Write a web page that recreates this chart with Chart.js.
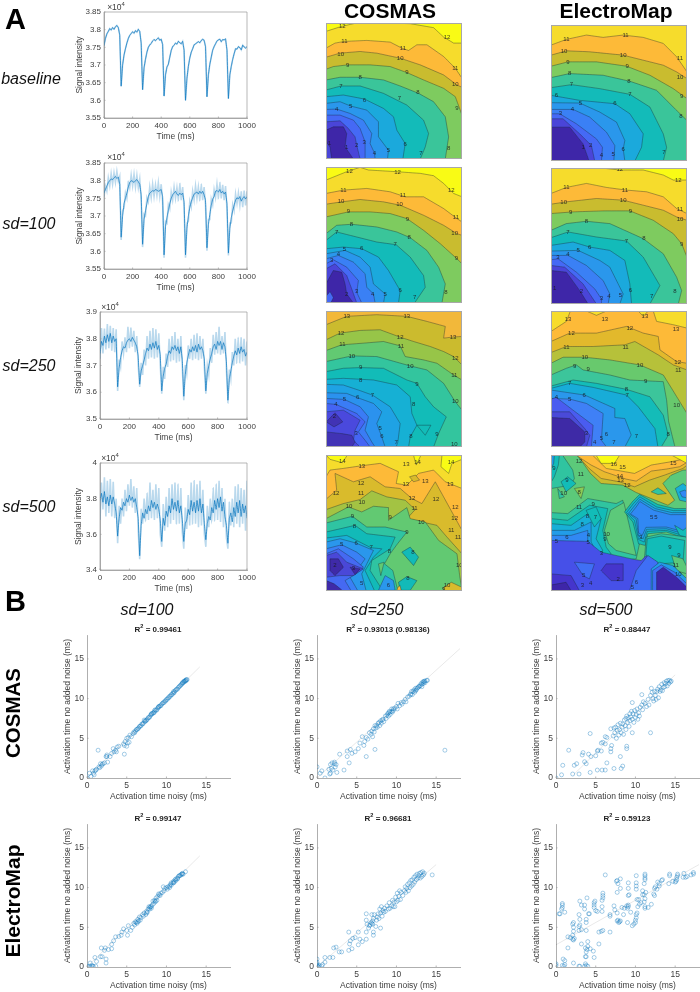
<!DOCTYPE html>
<html>
<head>
<meta charset="utf-8">
<script src="https://cdn.jsdelivr.net/npm/chart.js@4"></script>
<style>
  body { margin: 0; background: #fff; font-family: "Liberation Sans", Arial, sans-serif; }
  #page { position: relative; width: 700px; height: 992px; overflow: hidden; filter: blur(0.3px); }
  #page canvas { position: absolute; }
  .txt { position: absolute; transform: translate(-50%, -50%); white-space: nowrap; color: #000; }
  sup { font-size: 70%; line-height: 0; }
</style>
</head>
<body>
<div id="page"></div>
<script>
// time axis of the optical traces (ms)
const timeMs = [0,10,20,30,40,50,60,70,80,90,100,110,120,130,140,150,160,170,180,190,200,210,220,230,240,250,260,270,280,290,300,310,320,330,340,350,360,370,380,390,400,410,420,430,440,450,460,470,480,490,500,510,520,530,540,550,560,570,580,590,600,610,620,630,640,650,660,670,680,690,700,710,720,730,740,750,760,770,780,790,800,810,820,830,840,850,860,870,880,890,900,910,920,930,940,950,960,970,980,990,1000];

// signal intensity, in tens of counts (3805 reads as 3.805 x 10^4)
const baselineTrace = [3755,3775,3788,3795,3803,3799,3806,3801,3808,3812,3806,3785,3640,3700,3728,3746,3762,3775,3784,3789,3794,3790,3797,3793,3801,3795,3762,3630,3692,3716,3736,3750,3757,3761,3768,3772,3769,3773,3777,3770,3773,3758,3612,3672,3694,3702,3722,3741,3752,3756,3762,3759,3767,3763,3760,3767,3742,3600,3662,3696,3720,3736,3746,3757,3760,3763,3766,3763,3769,3773,3770,3752,3610,3672,3702,3722,3742,3752,3760,3768,3771,3773,3766,3772,3771,3774,3742,3605,3672,3696,3716,3732,3746,3745,3752,3749,3743,3756,3751,3748,3752];
const sd100Trace = [3765,3775,3785,3795,3800,3805,3803,3808,3812,3806,3810,3790,3640,3700,3735,3750,3765,3782,3795,3800,3798,3795,3800,3803,3797,3790,3760,3620,3690,3715,3735,3755,3765,3768,3772,3770,3775,3773,3770,3772,3775,3755,3590,3670,3695,3715,3735,3750,3760,3765,3770,3762,3758,3765,3760,3765,3740,3590,3665,3700,3725,3740,3752,3762,3765,3768,3762,3770,3764,3770,3760,3745,3610,3675,3705,3730,3748,3755,3770,3772,3768,3775,3765,3770,3762,3768,3735,3595,3665,3695,3715,3730,3745,3752,3748,3755,3742,3750,3755,3748,3755];
const sd100Noise = [3755,3785,3770,3808,3785,3820,3790,3822,3795,3826,3798,3812,3632,3715,3722,3765,3750,3798,3780,3816,3785,3818,3782,3815,3780,3805,3745,3612,3705,3700,3752,3740,3782,3752,3790,3755,3788,3758,3794,3755,3790,3740,3582,3685,3680,3732,3720,3768,3745,3782,3750,3780,3745,3792,3745,3782,3725,3582,3680,3685,3742,3725,3770,3745,3785,3750,3782,3745,3790,3745,3782,3730,3602,3690,3690,3748,3732,3775,3752,3790,3750,3795,3750,3788,3745,3785,3720,3588,3680,3680,3732,3715,3762,3735,3765,3730,3770,3725,3772,3730,3770];
const sd250Trace = [3745,3790,3775,3810,3785,3815,3790,3820,3785,3810,3790,3800,3620,3690,3730,3755,3770,3765,3785,3795,3800,3790,3805,3795,3785,3770,3735,3630,3680,3700,3720,3745,3765,3755,3780,3760,3785,3765,3790,3760,3775,3740,3605,3660,3690,3705,3735,3755,3745,3770,3760,3775,3755,3770,3745,3770,3720,3585,3665,3710,3735,3760,3750,3770,3755,3775,3750,3780,3760,3770,3755,3725,3605,3670,3700,3725,3745,3770,3780,3760,3790,3775,3790,3760,3785,3770,3715,3570,3650,3680,3710,3735,3755,3740,3765,3745,3770,3750,3760,3735,3750];
const sd250Noise = [3725,3840,3745,3838,3760,3855,3765,3848,3755,3840,3750,3835,3605,3720,3695,3790,3745,3805,3750,3845,3765,3842,3770,3830,3750,3810,3700,3620,3710,3665,3760,3700,3810,3725,3830,3730,3840,3725,3835,3730,3820,3700,3595,3695,3650,3745,3695,3800,3715,3810,3720,3825,3710,3800,3715,3810,3690,3570,3700,3670,3775,3725,3800,3720,3815,3725,3820,3720,3810,3725,3800,3690,3595,3700,3665,3765,3710,3815,3740,3825,3745,3845,3740,3810,3745,3825,3685,3560,3685,3650,3750,3700,3800,3710,3805,3710,3805,3715,3800,3700,3790];
const sd500Trace = [3790,3830,3780,3840,3770,3810,3760,3820,3770,3810,3770,3720,3590,3690,3750,3735,3780,3760,3800,3780,3820,3790,3810,3780,3800,3750,3690,3480,3650,3720,3690,3740,3715,3760,3730,3790,3750,3780,3740,3770,3740,3680,3560,3690,3650,3730,3700,3760,3720,3800,3740,3780,3730,3790,3720,3760,3680,3560,3660,3680,3740,3710,3790,3730,3780,3720,3790,3730,3800,3720,3770,3660,3570,3660,3700,3680,3750,3720,3790,3740,3800,3750,3810,3730,3780,3700,3650,3550,3690,3720,3670,3750,3700,3780,3720,3790,3700,3770,3720,3760,3690];
const sd500Noise = [3680,3890,3740,3920,3700,3900,3720,3910,3700,3895,3690,3800,3550,3760,3660,3800,3700,3850,3730,3880,3760,3910,3750,3870,3720,3860,3620,3460,3740,3660,3800,3680,3830,3680,3890,3690,3850,3680,3880,3690,3860,3600,3530,3770,3620,3810,3640,3860,3660,3880,3680,3890,3660,3880,3660,3860,3610,3520,3750,3630,3820,3650,3890,3660,3900,3660,3880,3640,3900,3650,3850,3600,3530,3760,3640,3800,3680,3860,3680,3880,3680,3900,3670,3860,3640,3800,3580,3520,3780,3650,3800,3640,3870,3660,3880,3640,3860,3660,3850,3620,3900];

// activation time scatter: noisy, no-noise pairs (ms)
const cosmas100 = [0,0,.3,.6,.5,.2,.7,.9,.8,.6,.9,.4,1,.9,1.2,1.1,1.1,1,1.4,3.5,1.5,1.4,1.6,1.3,1.7,1.8,1.8,1.5,1.9,1.7,2,1.8,2.2,1.9,2.4,2.7,2.5,2.9,2.5,2.7,2.6,2,2.9,2.7,3.1,3.1,3.3,3.7,3.4,3.3,3.6,3.5,3.7,3.3,3.8,3.9,4,4,4.6,4.3,4.7,3,4.7,4.1,4.8,4.6,5,4,5,5,5.1,4.4,5.2,5.1,5.3,4.5,5.4,5.4,5.6,5.2,5.8,5.6,5.9,5.8,6,5.7,6.2,6.1,6.3,6.1,6.5,6.3,6.6,6.5,6.8,6.6,6.9,6.8,7.1,6.9,7.2,7.3,7.3,7.1,7.5,7.3,7.6,7.4,7.7,7.6,7.9,7.7,8,7.9,8.1,8,8.2,8.1,8.4,8.2,8.5,8.3,8.6,8.6,8.8,8.6,8.9,8.8,9,8.9,9.2,9.1,9.3,9.1,9.5,9.4,9.6,9.5,9.8,9.7,9.9,9.7,10.1,9.9,10.3,10.1,10.5,10.3,10.6,10.5,10.8,10.7,10.9,10.9,11,10.8,11.2,11.1,11.3,11.2,11.5,11.4,11.6,11.5,11.8,11.7,11.9,11.8,12,11.9,12.1,12,12.2,12.1,12.3,12.2,12.4,12.2,12.5,12.4,12.6,12.4,6.1,5.9,6.4,6.2,6.7,6.5,7,6.8,7.3,7.2,7.4,7.2,7.8,7.6,8.1,8.1,8.3,8.2,8.5,8.5,8.7,8.5,9,9,9.1,9,9.4,9.3,9.7,9.5,10,9.9,10.2,10.1,10.4,10.3,10.7,10.5,10.9,10.7,11.1,11,11.4,11.2,11.7,11.6,12,12,12.2,12.2,12.4,12.3,12.5,12.3];
const cosmas250 = [0,1.4,.4,.6,.6,.9,1,0,1.5,1.1,1.6,.5,1.7,.6,1.7,1.7,1.8,1.2,1.9,1.9,2,1,2.2,1.8,2.2,2,2.3,1.4,2.4,1.7,2.5,.7,2.85,3,3.4,1,3.8,3.4,4.05,1.9,3.8,2.7,4.2,3.6,4.4,3.1,4.8,3.3,5.2,3.7,5.4,4.4,5.9,4.1,5.7,5.2,6.2,2.7,7.3,3.6,16.1,3.5,6,4.6,6.2,5.1,6.4,4.9,6.6,5.7,6.8,5.5,6.9,5.9,7,5.2,7.1,6.2,7.2,5.8,7.3,6.6,7.4,6.3,7.6,6.4,7.7,6.9,7.9,6.6,8,7.2,8.1,6.9,8.3,7.4,8.4,7.1,8.6,7.8,8.7,7.5,8.9,8.1,9,7.8,9.1,8.4,9.2,8,9.4,8.7,9.5,8.3,9.6,8.5,9.8,8.8,10,9,10.1,8.7,10.2,9.4,10.4,9.1,10.6,9.5,10.7,9.3,10.9,9.6,11.1,9.9,11.2,9.6,11.4,10.2,11.6,10.3,11.8,10.6,11.9,10.9,12,10.5,12.2,11.1,12.3,10.8,12.4,11.3,12.5,11.1,12.7,11.4,12.8,11.5,13,11.6,13.1,11.9,13.2,11.5,13.3,12.1,13.4,11.9,13.5,12.2,13.6,12,13.8,12.3,13.9,12.3,8.8,7.9,9,8.2,9.2,8.3,9.4,8.4,9.6,8.7,11.8,10.5,12.1,10.9,12.4,11,12.6,11.3,12.9,11.6,13.2,11.8,13.4,12.1,13.6,12.2,7.5,6.6,7.8,7,8.2,7.3];
const cosmas500 = [0,0,.7,.4,.85,1.6,1.6,3.5,2.1,.5,2.3,1.6,2.6,1.8,2.9,.5,3.3,2.9,3.4,3.2,3.6,2.05,3.8,1.8,4.1,3,4.3,.7,4.3,5.6,4.4,2.7,5,2.8,5.2,1,5.2,3.4,5.3,3.5,5.7,3.4,5.8,1,6.2,1,6.4,1.9,5.7,4.4,5.9,4.5,6.2,4.3,6.2,5.2,6.4,5.1,7,4.1,6.9,3.7,6.9,3.3,7.3,1.2,8.1,2.7,8.2,1.2,8.4,1.5,8.9,4,8.9,3.7,9.6,5.7,11.9,5.7,6.9,6.2,7.2,5.3,7.3,6.3,7.4,5.7,7.5,6.4,7.6,5,7.7,6,7.8,6.7,7.9,5.4,8,6.1,8.1,6.9,8.2,5.7,8.3,6.4,8.4,6.8,8.5,5.5,8.6,7.3,8.7,6.6,8.8,7.5,8.8,6.1,8.9,7.8,9,7,9.1,7.6,9.2,6.5,9.3,8.1,9.3,7.2,9.4,7.7,9.5,8.4,9.6,9.5,9.6,7.4,9.7,8.1,9.8,7,9.9,8.5,10,7.6,10.1,8,10.2,8.7,10.3,7.4,10.4,8.2,10.5,7.8,10.6,8.9,10.8,9.2,10.8,10.5,10.9,8.6,11,9.6,11.2,9.4,11.4,9,11.6,9.9,11.7,9.2,11.9,10.4,12,11.3,12.1,10.8,12.2,10,12.3,9.7,12.4,10.9,12.5,10.4,12.6,9.9,12.7,10.9,12.8,11.2,12.9,10.1,13,11.5,13.1,10.9,13.2,11.1,13.3,11.8,13.4,11,13.5,11.4,13.6,12,13.7,11.5,13.8,11.9,13.9,12.2,14,11.6,14.1,12.3,14.2,11.9,14.3,12.3,14.4,12.1,14.5,12.2];
const electro100 = [0,.1,.3,.1,.4,.5,.5,0,.6,.2,.7,.1,.8,.1,1,1.2,1.1,.1,1.2,.7,1.7,1.3,1.8,2.4,1.9,1.3,2.4,1,2.4,.5,2.2,2.1,2.3,2.4,2.7,2.2,3.1,2.3,3.1,2.85,3.35,3.3,3.6,3.8,4,3.85,4.3,4,4.4,4.4,4.6,4.8,5.1,4,5,4.6,5.2,5.2,5.5,4.6,5.7,5,5.9,5.5,6,5.3,6.1,5.7,6.3,5.5,6.4,6,6.5,5.8,6.6,6.3,6.7,5.9,6.8,6.2,7,6.6,7.1,6.4,7.2,6.8,7.4,6.6,7.5,7,7.6,6.9,7.7,7.3,7.8,7.6,7.9,7.3,8,7.6,8.1,7.4,8.2,7.8,8.3,8.3,8.4,8,8.5,8.4,8.6,8.2,8.7,8.7,8.8,8.4,8.9,8.9,9,9.2,9.2,9,9.3,9.3,9.5,9.4,9.6,10.1,9.7,9.6,9.8,9.9,10,10,10.1,9.8,10.2,10.1,10.4,10.2,10.5,10.4,10.6,10.6,10.8,10.6,10.9,10.8,11,10.7,11.1,11,11.2,11.1,11.4,11.2,11.5,11.4,11.6,11.5,11.8,11.6,11.9,11.7,12,11.8,12.1,11.7,12.4,12,7.5,6.8,7.9,7.5,8.1,7.6,8.6,8.3,9.1,9.1,10.4,10,10.6,10.3,10.9,10.6,11.2,10.9,11.4,11.1,11.7,11.5,12,11.7,6.2,5.6,6.4,5.7];
const electro250 = [0,.2,0,.4,0,.6,0,1,.1,.1,.2,0,.3,.2,.6,.1,.7,.3,1,.6,1,1.2,1.6,1.2,2,1.2,2.1,2.4,2.4,2.5,2.8,1.9,3.1,1.9,4,2.1,4,4.4,4.1,2.9,4.2,3.3,4.4,2.3,4.5,3.6,4.8,3.7,5.2,4.4,5.4,3.5,5.7,3.2,6.2,3.5,5.2,2.8,6.2,4.4,6.7,5.3,7.1,4,7.1,4.4,6.9,5.5,6.2,6.7,6.2,5.9,6.3,5.4,6.5,4.9,6.6,5.2,6.8,5.6,6.9,6.6,7,5.8,7,5.4,7.1,6.1,7.2,6.6,7.4,5.1,7.5,5.9,7.6,6.3,7.7,6.7,7.8,6.1,7.9,7.3,8,4.9,8,6.8,8.1,7.6,8.2,6.4,8.3,7.1,8.4,6.9,8.5,7.4,8.6,7,8.8,7.7,9,7.3,9.1,8.1,9.2,7.4,9.4,7.7,9.5,8.4,9.6,7.6,9.7,8.2,9.8,7.6,9.9,8.8,10,8.2,10.1,9.3,10.2,8.4,10.3,8.9,10.4,9.6,10.5,8.5,10.6,9.4,10.8,9,11,9.6,11.1,10.1,11.2,9.4,11.3,9.9,11.4,10.4,11.5,9.6,11.6,10.6,11.7,10,11.8,10.9,11.9,10.2,12,11,12.1,10.4,12.2,11.3,12.3,10.7,12.4,11.5,12.5,11,12.6,11.7,12.7,11.2,12.8,11.5,12.9,11.8,13,11.2,13.1,11.9,13.2,11.4,13.3,12,13.4,11.6,13.5,11.8,14.5,11.6];
const electro500 = [0,.2,0,.4,.8,.2,.9,1,1,.1,1.1,.3,1.1,.8,2.2,.5,2.9,.1,3,.1,3.6,.1,3.7,.4,3.8,.2,4,.1,3.7,1.3,3.8,1.3,3.8,1.9,3.9,2.2,3.7,2.4,4,2.6,4,3.2,4.3,2.3,4.7,2,4.8,1.2,5.4,2.9,5.4,4.4,5.7,4.5,5.9,4.6,6.8,4.4,3.2,2.9,1.5,2.4,1.5,3.8,1.8,3.7,2.1,3.5,2.2,3.4,2.1,4,2.2,4.5,2.2,5,2.1,5.4,2.2,5.6,2.3,3.6,2.9,4.6,2.9,5.1,3,5.3,3,6,2.9,6.6,3.2,4.7,3.8,4.6,3.8,5.6,3.8,6,3,8.3,3.2,7.8,3.6,7.3,3.6,7.8,3.9,8.7,4.2,6.7,4.1,6.7,.4,6.7,.5,6.7,.7,7.3,.8,7.5,.8,7.8,.8,8,1.1,6.9,4.8,7.5,4.8,7.8,4.8,8.1,4.9,8.3,5,7.1,5.2,7,5.8,8.4,5.9,8.7,5.9,9,5.9,9.3,5.8,7,5.8,7.6,6.2,11.6,6.8,6.4,6.8,6.6,7.3,7.7,7.4,7.2,7.7,6.8,7.7,5.8,7.8,5.9,7.9,5.6,8,5.7,8.1,5.8,7.6,10.8,7.7,10.9,7.8,10.5,7.7,9.4,8.1,9.9,8.1,11.1,8.3,7.5,8.5,6.6,8.6,7.4,8.9,7.7,9,7.4,9.1,7.8,9.1,7.6,9,5.6,9.1,9,9.2,9.1,9.1,9.9,9.1,10.6,9.4,6.9,9.6,5.2,9.8,5.4,10,5.6,10,5.9,10.1,6.2,10.1,6.6,10.2,6.8,10.3,7.6,10.2,8.5,10.1,9.8,10.1,10.2,10.1,10.6,10.1,11.5,10.4,8.5,10.5,7.9,10.7,8.1,10.9,9.1,10.9,9.6,11.2,7.4,11.2,7.6,11.1,8.2,11.2,8.6,11.1,9.1,11.3,9.4,11.1,10.5,11.2,11,11.2,11.2,11.2,11.5,11.2,11.7,11.6,7.5,12,7.9,12.3,9.2,12.4,9,12.4,9.9,12.5,10.1,12.7,9.8,12.8,10.7,13,10.5,13,10.2,13.3,10.9,13.4,11,14.2,10.5,14.3,11.5,14.3,11.7,14.7,10.8,15,10.7,15.1,10.8,15.2,11.3,15.3,11.5,15.3,11.7,15.2,11,16,11.3,16.1,11.8,16.3,11.3,16.5,11.4,17,11.6,17.3,11.9,17.3,11.7];

// regression lines: x0,y0,x1,y1
const fitCosmas100 = [0,0,14.2,14];
const fitCosmas250 = [0,0,18,16.3];
const fitCosmas500 = [2.2,.4,15,13];
const fitElectro100 = [0,0,14.2,14];
const fitElectro250 = [0,0,15,12.9];
const fitElectro500 = [0,2.8,18,12.9];

// activation maps: each entry is [level, x,y, x,y, ...] on a 407 x 406 grid, y from the top.
// A line starting on the left or top edge is a contour (area below it is filled);
// any other line is a closed island at that level.
const cosmasBaseline = [
  [12,0,25,47,10,87,1,182,0,252,2,322,14,352,42,382,60,407,60],
  [11,0,75,27,60,55,55,122,52,192,57,227,75,247,82,272,65,302,65,352,100,387,135,407,165],
  [10,0,102,42,90,102,85,152,90,222,105,282,125,352,155,392,185,407,192],
  [9,0,138,22,130,65,125,132,125,192,130,242,148,292,170,352,195,387,220,407,275],
  [8,0,170,42,162,102,162,172,170,222,188,277,210,322,235,357,280,367,340,357,406],
  [7,0,200,45,188,102,188,172,210,242,245,292,290,307,330,297,370,282,406],
  [6,0,220,52,215,115,227,172,255,202,280,212,320,237,360,230,406],
  [5,0,240,42,235,74,248,122,260,157,295,157,340,187,380,184,406],
  [4,0,258,32,257,72,270,112,290,137,330,132,360,145,388,147,406],
  [3,0,275,42,275,82,290,102,315,117,355,117,406],
  [2,0,295,42,292,67,315,87,340,92,365,102,406],
  [1,0,320,22,310,52,310,62,330,57,370,82,406],
  [2,1,355,12,370,17,406,0,406,0,355]
];
const electroBaseline = [
  [11,0,60,46,43,106,30,156,37,216,30,276,37,336,55,376,95,407,140],
  [10,0,90,46,77,116,80,216,90,276,105,336,120,376,140,407,160],
  [9,0,123,51,110,136,110,226,123,296,150,366,190,407,220],
  [8,0,157,56,145,156,150,236,168,316,195,376,255,407,285],
  [7,0,187,61,178,146,190,236,207,296,245,336,325,346,365,336,406],
  [6,0,210,86,225,191,235,236,265,276,325,271,365,251,406],
  [5,0,232,86,233,146,260,196,290,221,345,216,370,221,406],
  [4,0,252,66,252,116,275,166,320,191,360,188,406],
  [3,0,265,26,265,76,295,136,340,154,365,151,406],
  [2,0,280,36,280,86,325,121,360,131,406],
  [1,0,305,56,305,96,355,114,406]
];
const cosmas100Map = [
  [12,0,39,62,14,102,1,127,9,212,14,282,19,322,26,352,49,382,79,407,89],
  [11,0,79,52,69,122,64,192,74,237,89,292,89,352,124,392,154,407,164],
  [10,0,111,47,104,102,97,172,104,222,114,292,144,352,174,392,199,407,204],
  [9,0,149,67,134,132,134,192,139,242,154,292,189,342,229,392,274,407,289],
  [8,0,199,32,174,77,171,152,179,212,194,252,211,302,249,337,299,357,349,347,406],
  [7,0,219,32,194,92,209,152,224,210,232,252,269,292,324,297,359,265,406],
  [6,0,244,52,239,107,244,157,269,187,309,222,369,217,406],
  [5,0,259,57,249,102,269,132,299,142,349,177,379,172,406],
  [4,0,274,37,264,82,284,117,319,122,359,142,379,147,406],
  [3,0,289,22,277,62,299,97,339,92,374,107,406],
  [2,0,304,27,289,62,324,77,364,92,406],
  [1,0,349,22,309,47,314,57,349,62,379,82,406],
  [3,1,385,12,372,22,390,14,406,0,406,0,385]
];
const electro100Map = [
  [12,151,0,206,6,276,6,336,21,366,36,407,36],
  [11,0,76,46,58,106,46,166,58,226,66,286,71,336,86,376,121,407,136],
  [10,0,108,46,101,136,91,216,96,276,111,336,126,376,146,407,156],
  [9,0,136,66,131,156,128,236,128,306,156,366,196,391,226,407,266],
  [8,0,186,46,166,106,159,176,166,276,211,336,256,376,326,391,366,381,406],
  [7,0,208,51,191,136,206,226,218,276,266,326,351,296,406],
  [6,0,231,66,221,116,236,176,246,221,276,236,346,241,406],
  [5,0,248,81,246,146,276,176,296,201,346,216,376,206,406],
  [4,0,261,51,261,106,291,156,336,176,376,171,406],
  [3,0,274,21,271,76,311,131,361,151,391,151,406],
  [2,0,291,41,296,96,346,116,376,136,406],
  [1,0,306,46,311,86,366,111,406]
];
const cosmas250Map = [
  [13,0,41,62,16,152,11,242,16,302,31,357,46,352,81,377,78,407,76],
  [12,0,86,42,66,102,58,162,56,222,78,262,91,312,106,352,121,382,136,407,161],
  [11,0,118,47,101,112,96,172,91,222,104,237,136,292,146,332,156,382,191,407,206],
  [10,0,151,77,134,152,136,252,164,302,176,352,216,387,271,407,296],
  [9,0,181,52,171,102,169,172,171,242,206,272,216,297,256,322,286,360,316,337,366,322,406],
  [8,0,204,52,201,142,206,212,221,252,256,257,306,272,341,252,376,247,406],
  [7,0,219,52,221,97,236,139,251,192,286,222,336,215,391,210,406],
  [6,0,244,62,246,95,259,142,276,167,301,152,336,167,376,177,406],
  [5,0,261,55,264,102,286,127,316,117,356,137,391,147,406],
  [4,0,276,30,279,92,306,117,331,97,361,117,386,132,406],
  [3,0,301,52,296,102,326,87,356,82,386,102,406],
  [2,1,331,27,304,50,331,24,346],
  [2,1,361,47,366,77,371,87,391,77,406,0,406,0,361],
  [9,272,341,314,341,297,371]
];
const electro250Map = [
  [13,0,61,46,31,58,0,106,0,136,13,166,0,261,0,276,16,291,0,306,0,316,31,366,41,407,51],
  [12,0,91,56,66,136,66,226,46,276,66,321,76,326,116,376,151,407,156],
  [11,0,124,46,106,126,106,221,101,251,91,321,131,366,161,407,176],
  [10,0,156,36,138,101,138,176,146,266,161,336,191,361,231,407,306],
  [9,0,191,46,171,76,161,96,176,176,191,236,206,336,211,346,266,352,330,371,406],
  [8,0,224,66,206,136,216,226,234,296,256,336,311,351,371,330,406],
  [7,0,231,56,216,126,228,226,251,261,286,311,351,320,406],
  [6,0,236,101,251,191,291,191,318,221,321,240,370,221,406],
  [5,0,261,56,263,106,276,156,306,151,386,166,406],
  [4,0,263,16,258,66,296,126,341,121,406],
  [3,0,301,56,301,101,351,116,371,106,406],
  [2,0,318,56,321,101,361,101,391,86,406]
];
const cosmas500Map = [
  [13,0,65,12,45,52,40,107,32,162,25,217,50,210,85,242,90,277,55,322,45,357,80,407,100],
  [12,0,132,32,105,27,55,82,80,132,65,177,95,222,100,257,130,287,145,327,80,352,125,407,225],
  [11,0,163,52,145,102,133,137,107,182,125,237,135,267,163,242,190,287,200,332,210,362,245,407,295],
  [10,0,190,67,155,107,170,142,153,187,157,187,195,242,157,252,190,297,200,337,255,392,295,400,360,407,405],
  [9,0,203,79,183,122,215,177,215,242,230,214,265,192,295,175,325,200,345,215,405],
  [8,0,230,87,210,122,235,207,245,192,280,137,315,132,345,170,405],
  [7,0,248,62,240,135,277,167,280,142,305,117,345,145,405],
  [6,0,260,42,250,90,263,142,285,122,325,107,355,120,405],
  [5,0,280,47,268,92,290,117,310,92,345,72,365,95,405],
  [4,0,295,37,280,82,310,112,335,82,360,57,375,75,405],
  [3,0,300,32,290,62,320,112,340,82,360,42,360,0,365],
  [2,12,310,37,310,52,335,27,360,12,345],
  [2,72,335,102,340,87,357],
  [2,1,375,25,385,50,405,0,405,0,375],
  [6,157,404,177,360,202,375,207,404],
  [10,157,325,174,320,164,360],
  [8,227,290,252,275,277,305,262,330],
  [8,217,380,242,363,272,375,252,404,222,404],
  [13,215,395,222,390,225,404,212,404],
  [12,352,395,375,380,407,395,407,405,352,405],
  [15,1,1,12,13,49,23,64,0,0,0],
  [15,262,1,270,30,284,1],
  [15,347,1,344,35,367,55,377,25,407,13,407,0,347,0],
  [12,250,65,268,60,280,75,262,80]
];
const electro500Map = [
  [12,80,1,118,55,150,85,215,90,255,112,300,130,350,150,370,135,335,85,360,60,395,45,407,45,407,0,80,0],
  [13,78,1,114,40,150,70,205,80,250,95,295,75,340,60,395,40,407,30,407,0,78,0],
  [14,76,1,120,30,160,50,225,72,255,78,300,48,345,42,385,35,407,22,407,0,76,0],
  [15,125,1,165,40,250,55,300,30,360,20,407,10,407,0,125,0],
  [16,135,1,150,25,190,25,205,1,205,0,135,0],
  [16,362,1,407,25,407,0,362,0],
  [9,1,1,35,1,65,45,70,70,60,90,1,100,0,100,0,0],
  [8,1,2,25,1,22,30,10,65,1,80,0,80,0,0],
  [6,1,3,10,1,8,25,1,40,0,40,0,0],
  [8,30,80,50,65,75,85,45,110],
  [11,70,100,100,95,90,130],
  [9,20,100,40,125,25,130],
  [9,1,172,50,175,110,130,195,145,215,135,222,180,250,180,270,240,255,310,150,320,1,325,0,325,0,172],
  [10,178,165,218,142,232,200,255,300,195,285,172,265,160,225],
  [8,1,190,50,195,115,150,170,160,155,225,165,275,180,295,150,310,1,310,0,310,0,190],
  [7,1,205,60,210,125,165,150,190,135,250,155,285,130,305,1,305,0,305,0,205],
  [8,105,165,135,155,150,190,130,215],
  [6,1,225,70,225,120,200,120,260,140,295,120,305,1,305,0,305,0,225],
  [5,1,240,60,240,110,225,110,265,130,295,1,305,0,305,0,240],
  [8,220,170,243,140,265,118,320,148,370,160,407,160,407,250,345,230,290,235,282,270,262,265,245,200],
  [7,226,172,247,145,266,125,316,155,366,166,407,166,407,244,345,225,288,228,279,260,262,252,250,196],
  [6,232,174,251,150,266,132,312,160,362,172,407,172,407,238,345,220,286,222,276,250,262,242,255,192],
  [5,238,176,255,155,266,139,308,165,358,178,407,178,407,232,345,215,284,216,273,240,262,232,260,190],
  [9,285,245,330,235,407,245,407,340,325,335,280,305],
  [8,288,250,330,242,400,255,395,320,325,325,284,298],
  [10,361,300,395,310,407,335,407,355,375,345],
  [3,1,255,110,258,150,290,250,312,270,315,285,300,310,340,300,405,0,405,0,255],
  [4,70,320,130,325,115,370,96,360],
  [2,165,325,216,325,216,375,180,375,150,345],
  [2,1,355,60,360,85,405,0,405,0,355],
  [1,1,388,45,380,60,405,0,405,0,388],
  [4,235,405,255,345,290,300,320,320,315,405],
  [6,300,340,325,320,365,330,407,370,407,405,300,405],
  [4,304,345,330,328,370,350,407,385,407,405,304,405],
  [1,316,350,336,335,376,365,407,395,407,405,316,405],
  [7,372,100,395,85,407,95,407,140,385,135],
  [5,385,110,400,105,407,110,407,128,392,125],
  [9,300,110,320,98,345,115,320,118],
  [8,370,210,395,225,407,215,407,245,385,240]
];

// fill colour under each contour level (index = level)
const baselineBands = ['#3e26a8','#3e26a8','#4a45d8','#4569f5','#3a80f5','#2a97ec','#1ba9dc','#13bbb9','#3ac59a','#7ecb5f','#c9bc2f','#fdba38','#f6dc2c','#f9fb15'];
const cosmas250Bands = ['#3e26a8','#3e26a8','#4133b5','#4a49dd','#4565f4','#3a7cf5','#2b92ee','#1fa2e4','#16b0d4','#12bcb8','#33c59e','#62c972','#97c548','#cbbb2e','#f2b83a'];
const electro250Bands = ['#3e26a8','#3e26a8','#3e2aa6','#4a4ad8','#4a5cf0','#3f80f6','#2a97ec','#18acd8','#14bcb8','#3cc59b','#68c96d','#b6c13a','#e2b92c','#fdba38','#f7dc2c'];
const cosmas500Bands = ['#3e26a8','#3e26a8','#3f2aa8','#4a48d8','#4569f2','#3a80f5','#2a97ec','#19afd6','#12bab8','#2fc4a2','#62c972','#a3c343','#d9bb2c','#fdba38','#f6dc2c','#f9fb15'];
const electro500Bands = ['#3e26a8','#3e26a8','#4535cc','#4650e8','#3f6ff5','#3188f3','#229ce8','#18afd6','#12bcb8','#30c4a0','#5cc97a','#8bcb55','#c8bc2f','#e8b92e','#fdba38','#f8d52c','#f9fb15'];

// contour labels: text, x, y
const cosmasBaselineText = ['12',49,10,'12',362,43,'11',55,55,'11',230,75,'11',387,135,'10',44,95,'10',222,105,'10',387,183,'9',65,125,'9',242,148,'9',392,255,'8',102,162,'8',275,208,'8',367,375,'7',45,188,'7',220,225,'7',284,388,'6',115,230,'6',237,362,'5',74,248,'5',187,380,'4',32,257,'4',145,388,'3',114,355,'2',92,365,'1',62,370,'1',10,360];
const electroBaselineText = ['11',46,43,'11',223,30,'11',386,100,'10',39,80,'10',216,90,'10',386,155,'9',51,112,'9',228,123,'9',391,212,'8',56,145,'8',233,168,'8',389,273,'7',61,178,'7',236,207,'7',338,380,'6',16,210,'6',191,235,'6',216,370,'5',88,235,'5',186,385,'4',64,252,'4',151,388,'3',28,265,'2',119,358,'1',96,365];
const cosmas100Text = ['12',70,12,'12',214,15,'12',375,71,'11',52,69,'11',230,84,'11',389,149,'10',45,103,'10',220,111,'10',385,197,'9',67,132,'9',244,156,'9',390,274,'8',76,171,'8',249,209,'8',359,375,'7',32,194,'7',207,232,'7',265,389,'6',107,244,'6',222,369,'5',55,247,'5',177,379,'4',37,261,'4',140,379,'3',17,279,'3',92,371,'2',62,379];
const electro100Text = ['12',206,4,'12',381,37,'11',46,58,'11',221,67,'11',386,123,'10',38,102,'10',216,96,'10',386,154,'9',59,132,'9',238,129,'9',391,229,'8',106,159,'8',278,211,'8',371,369,'7',51,191,'7',226,218,'7',301,383,'6',116,236,'6',238,366,'5',81,246,'5',208,381,'4',51,258,'4',173,384,'3',21,268,'3',151,389,'2',91,368,'1',11,358];
const cosmas250Text = ['13',62,16,'13',242,16,'13',380,79,'12',45,66,'12',222,78,'12',387,141,'11',49,101,'11',224,106,'11',384,193,'10',77,134,'10',252,164,'10',387,271,'9',104,169,'9',272,219,'9',332,369,'8',104,206,'8',262,279,'8',254,373,'7',139,251,'7',210,391,'6',95,259,'6',167,374,'5',55,264,'5',162,351,'4',30,279,'2',25,313,'3',90,364,'10',384,397];
const electro250Text = ['13',51,26,'13',161,26,'13',281,16,'13',374,54,'12',61,66,'12',236,51,'12',379,153,'11',46,109,'11',223,108,'11',381,178,'10',101,138,'10',266,162,'10',376,281,'9',71,166,'9',111,173,'9',283,209,'8',226,234,'8',351,369,'7',56,216,'7',228,251,'7',256,374,'7',188,391,'6',99,251,'6',166,369,'5',56,263,'5',151,379,'4',16,258,'4',131,391,'3',106,366];
const cosmas500Text = ['14',49,20,'13',107,33,'13',240,27,'14',274,23,'14',374,22,'12',105,85,'13',239,87,'13',297,78,'13',372,88,'12',30,113,'11',105,113,'10',107,140,'12',257,130,'12',329,132,'12',387,155,'11',265,160,'10',69,153,'9',79,183,'9',192,185,'10',285,200,'12',385,190,'11',375,225,'11',395,247,'8',85,212,'9',242,230,'6',90,263,'5',47,268,'7',135,277,'8',190,287,'8',260,292,'10',399,330,'3',82,338,'2',27,330,'8',245,368,'6',187,390,'5',107,383,'9',352,400,'10',362,388];
const electro500Text = ['16',188,28,'15',214,38,'15',366,25,'14',206,63,'13',208,77,'12',228,92,'12',84,18,'11',89,57,'9',48,75,'9',9,40,'10',38,113,'8',84,110,'11',84,157,'9',126,148,'8',109,182,'7',133,185,'8',93,207,'4',112,240,'5',111,262,'5',16,257,'6',48,247,'10',166,238,'9',161,253,'3',151,295,'5',314,187,'5',301,185,'3',268,245,'9',356,275,'9',383,300,'11',373,330,'10',381,355,'5',98,360,'4',119,383,'3',94,390,'2',201,370,'5',244,395,'6',256,380];

const page = document.getElementById('page');
const TEXT = '#404040';
const BLUE = 'rgb(0,114,189)';

function addCanvas(left, top, width, height) {
  const c = document.createElement('canvas');
  c.width = width;
  c.height = height;
  c.style.left = left + 'px';
  c.style.top = top + 'px';
  c.style.width = width + 'px';
  c.style.height = height + 'px';
  page.appendChild(c);
  return c;
}

function addText(html, x, y, css) {
  const d = document.createElement('div');
  d.className = 'txt';
  d.innerHTML = html;
  d.style.left = x + 'px';
  d.style.top = y + 'px';
  d.style.cssText += css;
  page.appendChild(d);
}

function pairs(flat) {
  const pts = [];
  for (let i = 0; i < flat.length; i += 2) pts.push({ x: flat[i], y: flat[i + 1] });
  return pts;
}

// small inward MATLAB style ticks, and the full box for the traces
function framePlugin(box) {
  return {
    id: 'frame',
    afterDraw(chart) {
      const { ctx, chartArea: a, scales } = chart;
      ctx.save();
      ctx.strokeStyle = '#9a9a9a';
      ctx.lineWidth = 0.7;
      ctx.beginPath();
      if (box) ctx.rect(a.left, a.top, a.right - a.left, a.bottom - a.top);
      scales.x.ticks.forEach(t => {
        const px = scales.x.getPixelForValue(t.value);
        ctx.moveTo(px, a.bottom);
        ctx.lineTo(px, a.bottom - 1.5);
      });
      scales.y.ticks.forEach(t => {
        const py = scales.y.getPixelForValue(t.value);
        ctx.moveTo(a.left, py);
        ctx.lineTo(a.left + 1.5, py);
      });
      ctx.stroke();
      ctx.restore();
    }
  };
}

function axis(min, max, step, title, size, fontSize, format) {
  return {
    type: 'linear',
    min, max,
    afterFit(s) {
      if (s.isHorizontal()) s.height = size; else s.width = size;
    },
    border: { display: true, color: '#9a9a9a', width: 0.8 },
    grid: { display: false, drawTicks: false },
    ticks: {
      stepSize: step,
      autoSkip: false,
      includeBounds: false,
      maxRotation: 0,
      padding: 3,
      color: TEXT,
      font: { family: 'Liberation Sans', size: fontSize },
      callback: format
    },
    title: {
      display: true,
      text: title,
      color: TEXT,
      padding: 1,
      font: { family: 'Liberation Sans', size: 8.5 }
    }
  };
}

function traceChart(l, t, w, h, axisW, trace, noise, yMin, yMax, yStep) {
  const padT = 8, padR = 14, axisH = 25;
  const c = addCanvas(l - axisW, t - padT, axisW + w + padR, padT + h + axisH);
  const toPts = arr => arr.map((v, i) => ({ x: timeMs[i], y: v }));
  new Chart(c, {
    type: 'scatter',
    data: {
      datasets: [
        { data: toPts(trace), showLine: true, borderColor: BLUE, borderWidth: 0.7, pointRadius: 0, tension: 0.001 },
        { data: toPts(noise), showLine: true, borderColor: 'rgba(0,114,189,0.27)', borderWidth: 1.6, pointRadius: 0, tension: 0.001 }
      ]
    },
    options: {
      responsive: false, animation: false,
      layout: { padding: { top: padT, right: padR, left: 0, bottom: 0 } },
      plugins: { legend: { display: false }, tooltip: { enabled: false } },
      scales: {
        x: axis(0, 1000, 200, 'Time (ms)', axisH, 8),
        y: axis(yMin, yMax, yStep, 'Signal intensity', axisW, 8, v => String(v / 1000))
      }
    },
    plugins: [framePlugin(true)]
  });
}

function scatterChart(l, t, flat, fit) {
  // padR has to hold half of the last tick label, or the plot area shrinks
  const padT = 8, padR = 7, axisW = 25, axisH = 25, size = 143;
  const c = addCanvas(l - axisW, t - padT, axisW + size + padR, padT + size + axisH);
  new Chart(c, {
    type: 'scatter',
    data: {
      datasets: [
        {
          data: pairs(flat),
          pointRadius: 2,
          pointBorderWidth: 0.6,
          pointBorderColor: 'rgba(0,114,189,0.6)',
          pointBackgroundColor: 'rgba(0,0,0,0)'
        },
        { data: pairs(fit), showLine: true, borderColor: 'rgba(0,0,0,0.13)', borderWidth: 0.7, pointRadius: 0 }
      ]
    },
    options: {
      responsive: false, animation: false,
      layout: { padding: { top: padT, right: padR, left: 0, bottom: 0 } },
      plugins: { legend: { display: false }, tooltip: { enabled: false } },
      scales: {
        x: axis(0, 18, 5, 'Activation time noisy (ms)', axisH, 8.5),
        y: axis(0, 18, 5, 'Activation time no added noise (ms)', axisW, 8.5)
      }
    },
    plugins: [framePlugin(false)]
  });
}

function mapChart(l, t, contours, bands, bg, labels) {
  const c = addCanvas(l, t, 136, 136);
  c.style.background = bands[bg];
  c.style.outline = '1px solid #a8a8a8';
  c.style.outlineOffset = '-1px';
  const W = 407, H = 406, sets = [];
  contours.forEach(row => {
    const line = pairs(row.slice(1));
    const first = line[0], last = line[line.length - 1];
    const isContour = first.x === 0 || first.y === 0;
    const shape = line.slice();
    if (isContour) {
      // close through the lower left corner of the map
      if (last.x >= W) shape.push({ x: W, y: H });
      shape.push({ x: 0, y: H });
      if (first.y === 0) shape.push({ x: 0, y: 0 });
    } else {
      line.push(first);
    }
    // a tiny tension keeps Chart.js off its fast path, which collapses steep segments
    sets.push({ data: shape, showLine: true, fill: 'shape', backgroundColor: bands[row[0]], borderWidth: 0, pointRadius: 0, tension: 0.001 });
    sets.push({ data: line, showLine: true, fill: false, borderColor: 'rgba(25,35,45,0.62)', borderWidth: 0.6, pointRadius: 0, tension: 0.001 });
  });
  const contourText = {
    id: 'contourText',
    afterDatasetsDraw(chart) {
      const { ctx, scales } = chart;
      ctx.save();
      ctx.fillStyle = 'rgba(25,25,30,0.85)';
      ctx.font = '6px "Liberation Sans"';
      ctx.textAlign = 'center';
      ctx.textBaseline = 'middle';
      for (let i = 0; i < labels.length; i += 3) {
        ctx.fillText(labels[i], scales.x.getPixelForValue(labels[i + 1]), scales.y.getPixelForValue(labels[i + 2]));
      }
      ctx.restore();
    }
  };
  new Chart(c, {
    type: 'scatter',
    data: { datasets: sets.reverse() }, // first dataset is painted last
    options: {
      responsive: false, animation: false,
      layout: { padding: 0 },
      plugins: { legend: { display: false }, tooltip: { enabled: false } },
      scales: {
        x: { type: 'linear', display: false, min: 0, max: W },
        y: { type: 'linear', display: false, min: 0, max: H, reverse: true }
      }
    },
    plugins: [contourText]
  });
}

// panel A, traces
traceChart(104, 12, 143, 106, 30, baselineTrace, baselineTrace, 3550, 3850, 50);
traceChart(104, 163, 143, 106, 30, sd100Trace, sd100Noise, 3550, 3850, 50);
traceChart(100, 312, 147, 107, 27, sd250Trace, sd250Noise, 3500, 3900, 100);
traceChart(100, 463, 147, 107, 27, sd500Trace, sd500Noise, 3400, 4000, 200);

// panel A, maps
mapChart(326, 23, cosmasBaseline, baselineBands, 13, cosmasBaselineText);
mapChart(551, 25, electroBaseline, baselineBands, 12, electroBaselineText);
mapChart(326, 167, cosmas100Map, baselineBands, 13, cosmas100Text);
mapChart(551, 168, electro100Map, baselineBands, 13, electro100Text);
mapChart(326, 311, cosmas250Map, cosmas250Bands, 14, cosmas250Text);
mapChart(551, 311, electro250Map, electro250Bands, 14, electro250Text);
mapChart(326, 455, cosmas500Map, cosmas500Bands, 14, cosmas500Text);
mapChart(551, 455, electro500Map, electro500Bands, 10, electro500Text);

// panel B
scatterChart(87, 635, cosmas100, fitCosmas100);
scatterChart(317, 635, cosmas250, fitCosmas250);
scatterChart(556, 635, cosmas500, fitCosmas500);
scatterChart(87, 824, electro100, fitElectro100);
scatterChart(317, 824, electro250, fitElectro250);
scatterChart(556, 824, electro500, fitElectro500);

// headings and row labels
const BOLD = 'font-weight:bold;';
const ITAL = 'font-style:italic;font-size:16px;color:#111;';
addText('A', 15.5, 19, BOLD + 'font-size:29px;');
addText('B', 15.5, 601, BOLD + 'font-size:29px;');
addText('COSMAS', 390, 11, BOLD + 'font-size:21px;');
addText('ElectroMap', 616, 11, BOLD + 'font-size:21px;');
addText('baseline', 31, 79, ITAL);
addText('sd=100', 29, 224, ITAL);
addText('sd=250', 29, 366, ITAL);
addText('sd=500', 29, 507, ITAL);
addText('sd=100', 147, 610, ITAL);
addText('sd=250', 377, 610, ITAL);
addText('sd=500', 606, 610, ITAL);
addText('COSMAS', 12.5, 713, BOLD + 'font-size:20.5px;transform:translate(-50%,-50%) rotate(-90deg);');
addText('ElectroMap', 12.5, 901, BOLD + 'font-size:21px;transform:translate(-50%,-50%) rotate(-90deg);');
const R2 = BOLD + 'font-size:8px;color:#222;';
addText('R<sup>2</sup> = 0.99461', 158, 629, R2);
addText('R<sup>2</sup> = 0.93013 (0.98136)', 388, 629, R2);
addText('R<sup>2</sup> = 0.88447', 627, 629, R2);
addText('R<sup>2</sup> = 0.99147', 158, 818, R2);
addText('R<sup>2</sup> = 0.96681', 388, 818, R2);
addText('R<sup>2</sup> = 0.59123', 627, 818, R2);
const EXP = 'font-size:8.5px;color:' + TEXT + ';';
addText('×10<sup>4</sup>', 116, 7, EXP);
addText('×10<sup>4</sup>', 116, 157, EXP);
addText('×10<sup>4</sup>', 110, 307, EXP);
addText('×10<sup>4</sup>', 110, 458, EXP);
</script>
</body>
</html>
